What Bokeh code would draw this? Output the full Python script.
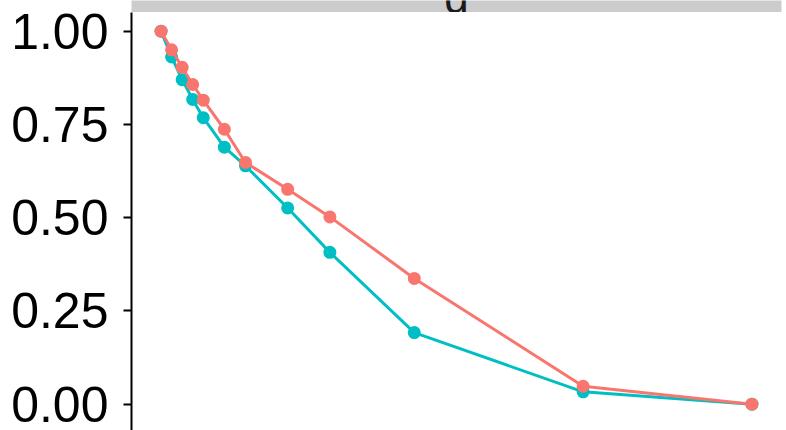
from bokeh.plotting import figure
from bokeh.layouts import column
from bokeh.models import Range1d, FixedTicker, NumeralTickFormatter, GlobalInlineStyleSheet
from bokeh.core.properties import value
from bokeh.embed import file_html
from bokeh.resources import INLINE

# ---- data ----
x_vals = [0, 1, 2, 3, 4, 6, 8, 12, 16, 24, 40, 56]
series_teal = [1.000, 0.931, 0.870, 0.817, 0.768, 0.689, 0.639, 0.526, 0.407, 0.192, 0.033, 0.000]
series_red = [1.000, 0.950, 0.903, 0.857, 0.815, 0.737, 0.648, 0.576, 0.502, 0.337, 0.048, 0.000]
y_ticks = [0.0, 0.25, 0.5, 0.75, 1.0]
strip_label = "g"

RED = "#F8766D"
TEAL = "#00BFC4"
FONT = "Liberation Sans"

x_range = Range1d(-2.8, 58.8)

# ---- facet strip ----
strip = figure(width=786, height=12, x_range=x_range, y_range=Range1d(0, 12),
               output_backend="svg", toolbar_location=None,
               min_border_left=131, min_border_right=5, min_border_top=0, min_border_bottom=0)
strip.axis.visible = False
strip.grid.visible = False
strip.outline_line_color = None
strip.background_fill_color = "#CCCCCC"
strip.border_fill_color = "white"
strip.text(x=[28], y=[15], text=[strip_label], text_font=value(FONT), text_font_size="44px",
           text_align="center", text_baseline="alphabetic", text_color="#1A1A1A")

# ---- main panel ----
p = figure(width=786, height=418, x_range=x_range, y_range=Range1d(-0.0706, 1.05),
           output_backend="svg", toolbar_location=None,
           min_border_left=131, min_border_right=5, min_border_top=0, min_border_bottom=0)
p.xaxis.visible = False
p.grid.visible = False
p.outline_line_color = None
p.background_fill_color = "white"
p.border_fill_color = "white"

ax = p.yaxis[0]
ax.ticker = FixedTicker(ticks=y_ticks)
ax.formatter = NumeralTickFormatter(format="0.00")
ax.major_label_text_font = FONT
ax.major_label_text_font_size = "50px"
ax.major_label_text_color = "black"
ax.major_label_standoff = 15
ax.major_tick_out = 8
ax.major_tick_in = 0
ax.minor_tick_out = 0
ax.minor_tick_in = 0
ax.axis_line_width = 2
ax.major_tick_line_width = 2
ax.axis_line_color = "black"
ax.major_tick_line_color = "black"

p.line(x_vals, series_teal, line_color=TEAL, line_width=3)
p.scatter(x_vals, series_teal, size=13, fill_color=TEAL, line_color=None)
p.line(x_vals, series_red, line_color=RED, line_width=3)
p.scatter(x_vals, series_red, size=13, fill_color=RED, line_color=None)

layout = column(strip, p, spacing=0,
                stylesheets=[GlobalInlineStyleSheet(css="body{margin:0 !important;}")])

open("out.html", "w").write(file_html(layout, INLINE))
